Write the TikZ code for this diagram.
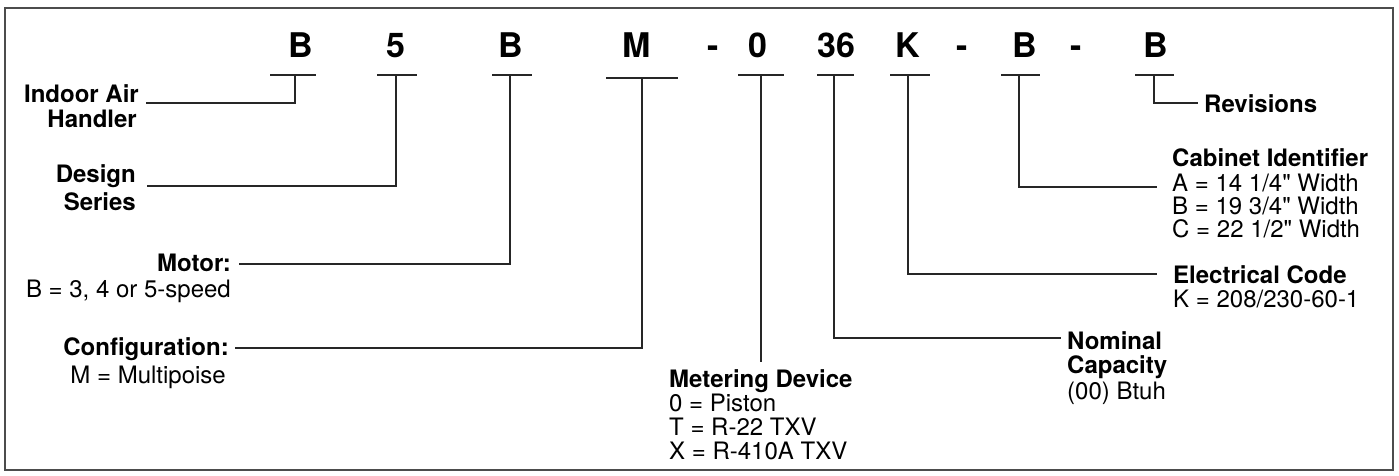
\documentclass[tikz,border=0pt]{standalone}
\usepackage{fontspec}
\setmainfont{TeX Gyre Heros}[Ligatures=TeXOff]
\begin{document}
\begin{tikzpicture}[x=1pt,y=-1pt,
  big/.style={font=\fontsize{34}{34}\selectfont\bfseries, inner sep=0pt, anchor=base},
  lb/.style={font=\fontsize{24}{24}\selectfont\bfseries, inner sep=0pt},
  ln/.style={font=\fontsize{24}{24}\selectfont, inner sep=0pt},
  wire/.style={line width=1.2pt, draw=black!85},
  frame/.style={line width=1.5pt, draw=black!70}
]
\useasboundingbox (0,0) rectangle (1399,475);
\draw[frame] (5,8) rectangle (1393,470);

% code letters
\node[big] (c1) at (301,57) {B};
\node[big] (c2) at (396,57) {5};
\node[big] (c3) at (511,57) {B};
\node[big] (c4) at (637,57) {M};
\node[big] (c5) at (713,57) {-};
\node[big] (c6) at (758,57) {0};
\node[big] (c7) at (836,57) {36};
\node[big] (c8) at (908,57) {K};
\node[big] (c9) at (962,57) {-};
\node[big] (c10) at (1025,57) {B};
\node[big] (c11) at (1076,57) {-};
\node[big] (c12) at (1156,57) {B};

% tops of the leaders
\coordinate (v1) at (295,75);
\coordinate (v2) at (396,75);
\coordinate (v3) at (510,75);
\coordinate (v4) at (642,78);
\coordinate (v6) at (761,75);
\coordinate (v7) at (834,75);
\coordinate (v8) at (908,75);
\coordinate (v10) at (1019,75);
\coordinate (v12) at (1154,75);

% bars under letters
\draw[wire] ([xshift=-25pt]v1) -- ([xshift=21pt]v1);
\draw[wire] ([xshift=-19pt]v2) -- ([xshift=21pt]v2);
\draw[wire] ([xshift=-18pt]v3) -- ([xshift=22pt]v3);
\draw[wire] ([xshift=-36pt]v4) -- ([xshift=36pt]v4);
\draw[wire] ([xshift=-23pt]v6) -- ([xshift=23pt]v6);
\draw[wire] ([xshift=-17pt]v7) -- ([xshift=20pt]v7);
\draw[wire] ([xshift=-18pt]v8) -- ([xshift=22pt]v8);
\draw[wire] ([xshift=-18pt]v10) -- ([xshift=21pt]v10);
\draw[wire] ([xshift=-19pt]v12) -- ([xshift=20pt]v12);

% labels, left side
\node[lb, anchor=base east] (iah1) at (139,102) {Indoor Air};
\node[lb, anchor=base east] (iah2) at (137,127) {Handler};
\node[lb, anchor=base east] (ds1) at (136,182) {Design};
\node[lb, anchor=base east] (ds2) at (136,210) {Series};
\node[lb, anchor=base east] (mo1) at (231,271) {Motor:};
\node[ln, anchor=base east] (mo2) at (231,297) {B = 3, 4 or 5-speed};
\node[lb, anchor=base east] (cf1) at (229,355) {Configuration:};
\node[ln, anchor=base east] (cf2) at (226,383) {M = Multipoise};

% metering device
\node[lb, anchor=base west] (md1) at (669,387) {Metering Device};
\node[ln, anchor=base west] (md2) at (669,411) {0 = Piston};
\node[ln, anchor=base west] (md3) at (669,435) {T = R-22 TXV};
\node[ln, anchor=base west] (md4) at (669,459) {X = R-410A TXV};

% nominal capacity
\node[lb, anchor=base west] (nc1) at (1067,349) {Nominal};
\node[lb, anchor=base west] (nc2) at (1067,373) {Capacity};
\node[ln, anchor=base west] (nc3) at (1067,399) {(00) Btuh};

% electrical code
\node[lb, anchor=base west] (ec1) at (1173,283) {Electrical Code};
\node[ln, anchor=base west] (ec2) at (1173,307) {K = 208/230-60-1};

% cabinet identifier
\node[lb, anchor=base west] (ci1) at (1172,166) {Cabinet Identifier};
\node[ln, anchor=base west] (ci2) at (1172,191) {A = 14 1/4" Width};
\node[ln, anchor=base west] (ci3) at (1172,214) {B = 19 3/4" Width};
\node[ln, anchor=base west] (ci4) at (1172,237) {C = 22 1/2" Width};

% revisions
\node[lb, anchor=base west] (rv) at (1204,112) {Revisions};

% leader ends
\coordinate (e1) at (146,103);
\coordinate (e2) at (147,186);
\coordinate (e3) at (239,264);
\coordinate (e4) at (235,348);
\coordinate (e6) at (761,362);
\coordinate (e7) at (1061,338);
\coordinate (e8) at (1157,274);
\coordinate (e10) at (1157,187);
\coordinate (e12) at (1198,103);

\draw[wire] (v1) |- (e1);
\draw[wire] (v2) |- (e2);
\draw[wire] (v3) |- (e3);
\draw[wire] (v4) |- (e4);
\draw[wire] (v6) -- (e6);
\draw[wire] (v7) |- (e7);
\draw[wire] (v8) |- (e8);
\draw[wire] (v10) |- (e10);
\draw[wire] (v12) |- (e12);
\end{tikzpicture}
\end{document}
